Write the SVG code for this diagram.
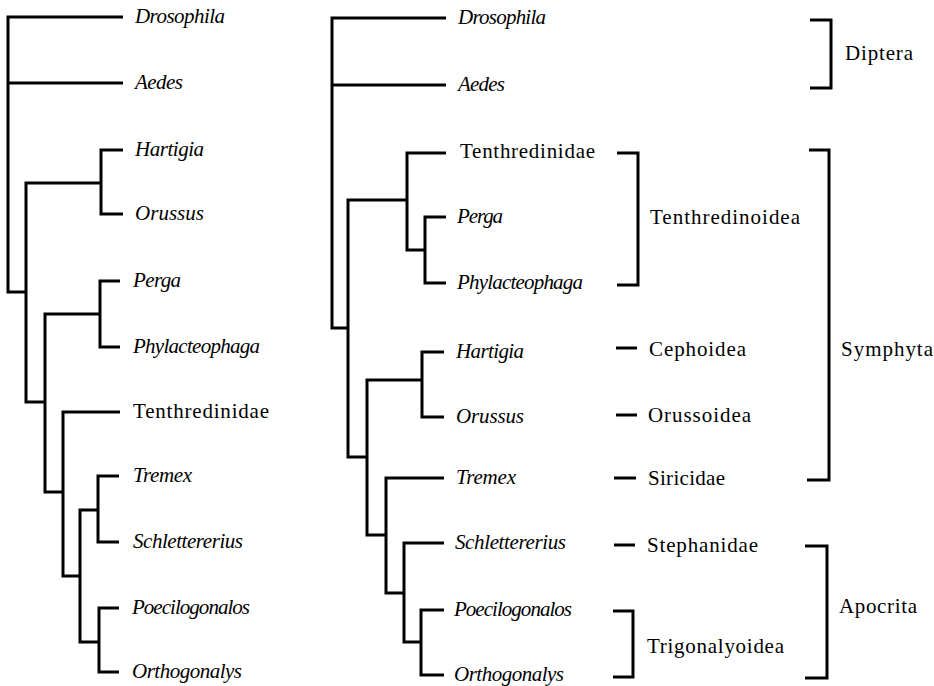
<svg xmlns="http://www.w3.org/2000/svg" width="934" height="686" viewBox="0 0 934 686">
<style>
.e{fill:none;stroke:#000;stroke-width:3;stroke-linejoin:miter;stroke-linecap:butt}
text{font-family:"Liberation Serif","Times New Roman",serif;font-size:21px;fill:#000}
.i{font-style:italic}
</style>
<rect width="934" height="686" fill="#fff"/>
<g id="connectors">
<path class="e" d="M123,17 H8 V292 H26 M8,83 H123"/>
<path class="e" d="M123,150 H101 V214 H123"/>
<path class="e" d="M101,183 H26 V402 H45"/>
<path class="e" d="M120,281 H100 V347 H120"/>
<path class="e" d="M100,314 H45 V492 H63"/>
<path class="e" d="M120,412 H63 V576 H80"/>
<path class="e" d="M119,476 H98 V542 H119"/>
<path class="e" d="M98,510 H80 V642 H99"/>
<path class="e" d="M119,608 H99 V672 H119"/>
<path class="e" d="M446,18 H332 V328 H348 M332,85 H446"/>
<path class="e" d="M446,153 H407 V250 H425"/>
<path class="e" d="M446,217 H425 V283 H446"/>
<path class="e" d="M407,200 H348 V457 H367"/>
<path class="e" d="M444,352 H422 V417 H444"/>
<path class="e" d="M422,380 H367 V535 H386"/>
<path class="e" d="M444,478 H386 V593 H404"/>
<path class="e" d="M444,543 H404 V642 H421"/>
<path class="e" d="M444,610 H421 V675 H444"/>
<path class="e" d="M810,20 H831 V88 H810"/>
<path class="e" d="M617,153 H638 V285 H617"/>
<path class="e" d="M809,150 H829 V480 H807"/>
<path class="e" d="M616,348 H637"/>
<path class="e" d="M616,415 H637"/>
<path class="e" d="M614,478 H636"/>
<path class="e" d="M614,545 H635"/>
<path class="e" d="M805,546 H827 V678 H805"/>
<path class="e" d="M613,611 H633 V677 H613"/>
</g>
<g id="left-drosophila"><text class="i" x="135" y="23" textLength="90">Drosophila</text></g>
<g id="left-aedes"><text class="i" x="135" y="89" textLength="48">Aedes</text></g>
<g id="left-hartigia"><text class="i" x="135" y="156" textLength="69">Hartigia</text></g>
<g id="left-orussus"><text class="i" x="135" y="220" textLength="69">Orussus</text></g>
<g id="left-perga"><text class="i" x="133" y="287" textLength="48">Perga</text></g>
<g id="left-phylacteophaga"><text class="i" x="133" y="353" textLength="127">Phylacteophaga</text></g>
<g id="left-tenthredinidae"><text x="133" y="418" textLength="136">Tenthredinidae</text></g>
<g id="left-tremex"><text class="i" x="133" y="482" textLength="59">Tremex</text></g>
<g id="left-schlettererius"><text class="i" x="133" y="548" textLength="110">Schlettererius</text></g>
<g id="left-poecilogonalos"><text class="i" x="132" y="614" textLength="118">Poecilogonalos</text></g>
<g id="left-orthogonalys"><text class="i" x="132" y="678" textLength="110">Orthogonalys</text></g>
<g id="right-drosophila"><text class="i" x="458" y="24" textLength="88">Drosophila</text></g>
<g id="right-aedes"><text class="i" x="458" y="91" textLength="47">Aedes</text></g>
<g id="right-tenthredinidae"><text x="460" y="158" textLength="135">Tenthredinidae</text></g>
<g id="right-perga"><text class="i" x="457" y="223" textLength="46">Perga</text></g>
<g id="right-phylacteophaga"><text class="i" x="457" y="289" textLength="126">Phylacteophaga</text></g>
<g id="right-hartigia"><text class="i" x="456" y="358" textLength="68">Hartigia</text></g>
<g id="right-orussus"><text class="i" x="456" y="423" textLength="68">Orussus</text></g>
<g id="right-tremex"><text class="i" x="456" y="484" textLength="60">Tremex</text></g>
<g id="right-schlettererius"><text class="i" x="455" y="549" textLength="111">Schlettererius</text></g>
<g id="right-poecilogonalos"><text class="i" x="454" y="616" textLength="118">Poecilogonalos</text></g>
<g id="right-orthogonalys"><text class="i" x="454" y="681" textLength="110">Orthogonalys</text></g>
<g id="diptera"><text x="845" y="60" textLength="68">Diptera</text></g>
<g id="tenthredinoidea"><text x="650" y="224" textLength="150">Tenthredinoidea</text></g>
<g id="symphyta"><text x="841" y="356" textLength="92">Symphyta</text></g>
<g id="cephoidea"><text x="649" y="356" textLength="97">Cephoidea</text></g>
<g id="orussoidea"><text x="648" y="422" textLength="103">Orussoidea</text></g>
<g id="siricidae"><text x="648" y="485" textLength="77">Siricidae</text></g>
<g id="stephanidae"><text x="647" y="552" textLength="111">Stephanidae</text></g>
<g id="apocrita"><text x="839" y="613" textLength="78">Apocrita</text></g>
<g id="trigonalyoidea"><text x="647" y="653" textLength="137">Trigonalyoidea</text></g>
</svg>
